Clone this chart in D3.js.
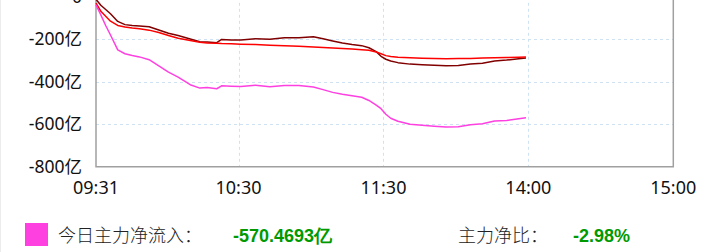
<!DOCTYPE html>
<html>
<head>
<meta charset="utf-8">
<script src="https://cdn.jsdelivr.net/npm/d3@7"></script>
<style>
  body { margin: 0; background: #fff; }
  .ax text { font-family: "Noto Sans", "Noto Sans CJK SC", sans-serif; fill: #111; }
</style>
</head>
<body>
<div id="chart"></div>
<script>
// minute index from 09:31 (0) to 15:00 (239), lunch break skipped
const minutes = [0, 2, 4, 6, 9, 12, 15, 18, 22, 26, 30, 34, 39, 43, 46, 50, 52, 56, 60, 66, 72, 78, 84, 90, 94, 98,
    102, 106, 110, 113, 116, 118, 120, 122, 125, 130, 135, 140, 145, 150, 155, 160, 165, 170, 175, 178];
// 主力净流入 (亿)
const mainFlow = [-38, -85, -135, -180, -250, -268, -276, -283, -296, -325, -355, -378, -414, -430, -427, -433, -419, -421,
    -422, -416, -423, -418, -418, -425, -437, -450, -459, -466, -473, -488, -510, -527, -553, -572, -586, -600, -605,
    -609, -613, -612, -603, -598, -585, -582, -574, -570];
const redFlow = [-30, -68, -92, -115, -135, -142, -147, -151, -157, -168, -182, -195, -206, -214, -217, -219, -220, -221,
    -223, -225, -228, -230, -233, -236, -239, -241, -244, -246, -249, -252, -260, -268, -277, -281, -285, -287, -289,
    -291, -292, -291, -290, -288, -287, -286, -285, -284];
const darkFlow = [-12, -40, -60, -80, -116, -131, -135, -138, -141, -156, -172, -182, -199, -212, -213, -216, -201, -203,
    -203, -197, -200, -193, -193, -188, -198, -208, -218, -225, -230, -240, -258, -280, -294, -302, -310, -317, -320,
    -322, -325, -324, -316, -313, -302, -298, -292, -288];
const tickIdx = [0, 59, 119, 179, 239];
const tickLabels = ["09:31", "10:30", "11:30", "14:00", "15:00"];
const yTicks = [0, -200, -400, -600, -800];
const totalFlow = "-570.4693亿";
const netRatio = "-2.98%";

const W = 712, H = 252;
const x = d3.scaleLinear().domain([0, 239]).range([96, 673.3]);
const y = d3.scaleLinear().domain([-800, 0]).range([166.7, -3.2]);

const svg = d3.select("#chart").append("svg").attr("width", W).attr("height", H);

svg.append("line").attr("x1", 0.5).attr("x2", 0.5).attr("y1", 0).attr("y2", H)
    .attr("stroke", "#ececec");

// grid
const grid = svg.append("g").attr("stroke", "#cfe2f3").attr("stroke-dasharray", "3,3").attr("stroke-width", 1);
grid.selectAll("line.v").data(tickIdx.slice(1, -1)).join("line")
    .attr("x1", d => Math.round(x(d)) + 0.5).attr("x2", d => Math.round(x(d)) + 0.5)
    .attr("y1", y(0)).attr("y2", y(-800));
grid.selectAll("line.h").data(yTicks.slice(1, -1)).join("line")
    .attr("x1", x(0)).attr("x2", x(239))
    .attr("y1", d => Math.round(y(d)) + 0.5).attr("y2", d => Math.round(y(d)) + 0.5);

// frame
svg.append("path")
    .attr("d", `M${x(0)},${y(0)}V${y(-800)}H${x(239)}V${y(0)}`)
    .attr("fill", "none").attr("stroke", "#a0a0a0").attr("stroke-width", 1.5);

// y labels
svg.append("g").attr("class", "ax")
    .selectAll("text").data(yTicks).join("text")
    .attr("x", 82).attr("y", d => y(d)).attr("dy", "0.35em")
    .attr("text-anchor", "end").attr("font-size", 17.5)
    .text(d => d === 0 ? "0" : d + "亿");

// x labels
svg.append("g").attr("class", "ax")
    .selectAll("text").data(tickIdx).join("text")
    .attr("x", d => x(d)).attr("y", 194)
    .attr("text-anchor", "middle").attr("font-size", 18)
    .text((d, i) => tickLabels[i]);

const line = vals => d3.line().x((d, i) => x(minutes[i])).y(d => y(d))(vals);
[[darkFlow, "#800000"], [redFlow, "#ff0000"], [mainFlow, "#ff40e0"]].forEach(([vals, c]) => {
    svg.append("path").attr("d", line(vals)).attr("fill", "none")
        .attr("stroke", c).attr("stroke-width", 1.5).attr("stroke-linejoin", "round");
});

// legend
svg.append("rect").attr("x", 25).attr("y", 223).attr("width", 23).attr("height", 23).attr("fill", "#ff40e0");
const leg = svg.append("g").attr("font-size", 18);
leg.append("text").attr("x", 58).attr("y", 242).attr("font-family", "Noto Sans CJK SC")
    .attr("font-weight", 300).attr("fill", "#222").text("今日主力净流入：");
leg.append("text").attr("x", 233).attr("y", 242).attr("font-family", "Liberation Sans, Arial, sans-serif")
    .attr("font-weight", "bold").attr("fill", "#009900").text(totalFlow);
leg.append("text").attr("x", 458).attr("y", 242).attr("font-family", "Noto Sans CJK SC")
    .attr("font-weight", 300).attr("fill", "#222").text("主力净比：");
leg.append("text").attr("x", 573).attr("y", 242).attr("font-family", "Liberation Sans, Arial, sans-serif")
    .attr("font-weight", "bold").attr("fill", "#009900").text(netRatio);
</script>
</body>
</html>
